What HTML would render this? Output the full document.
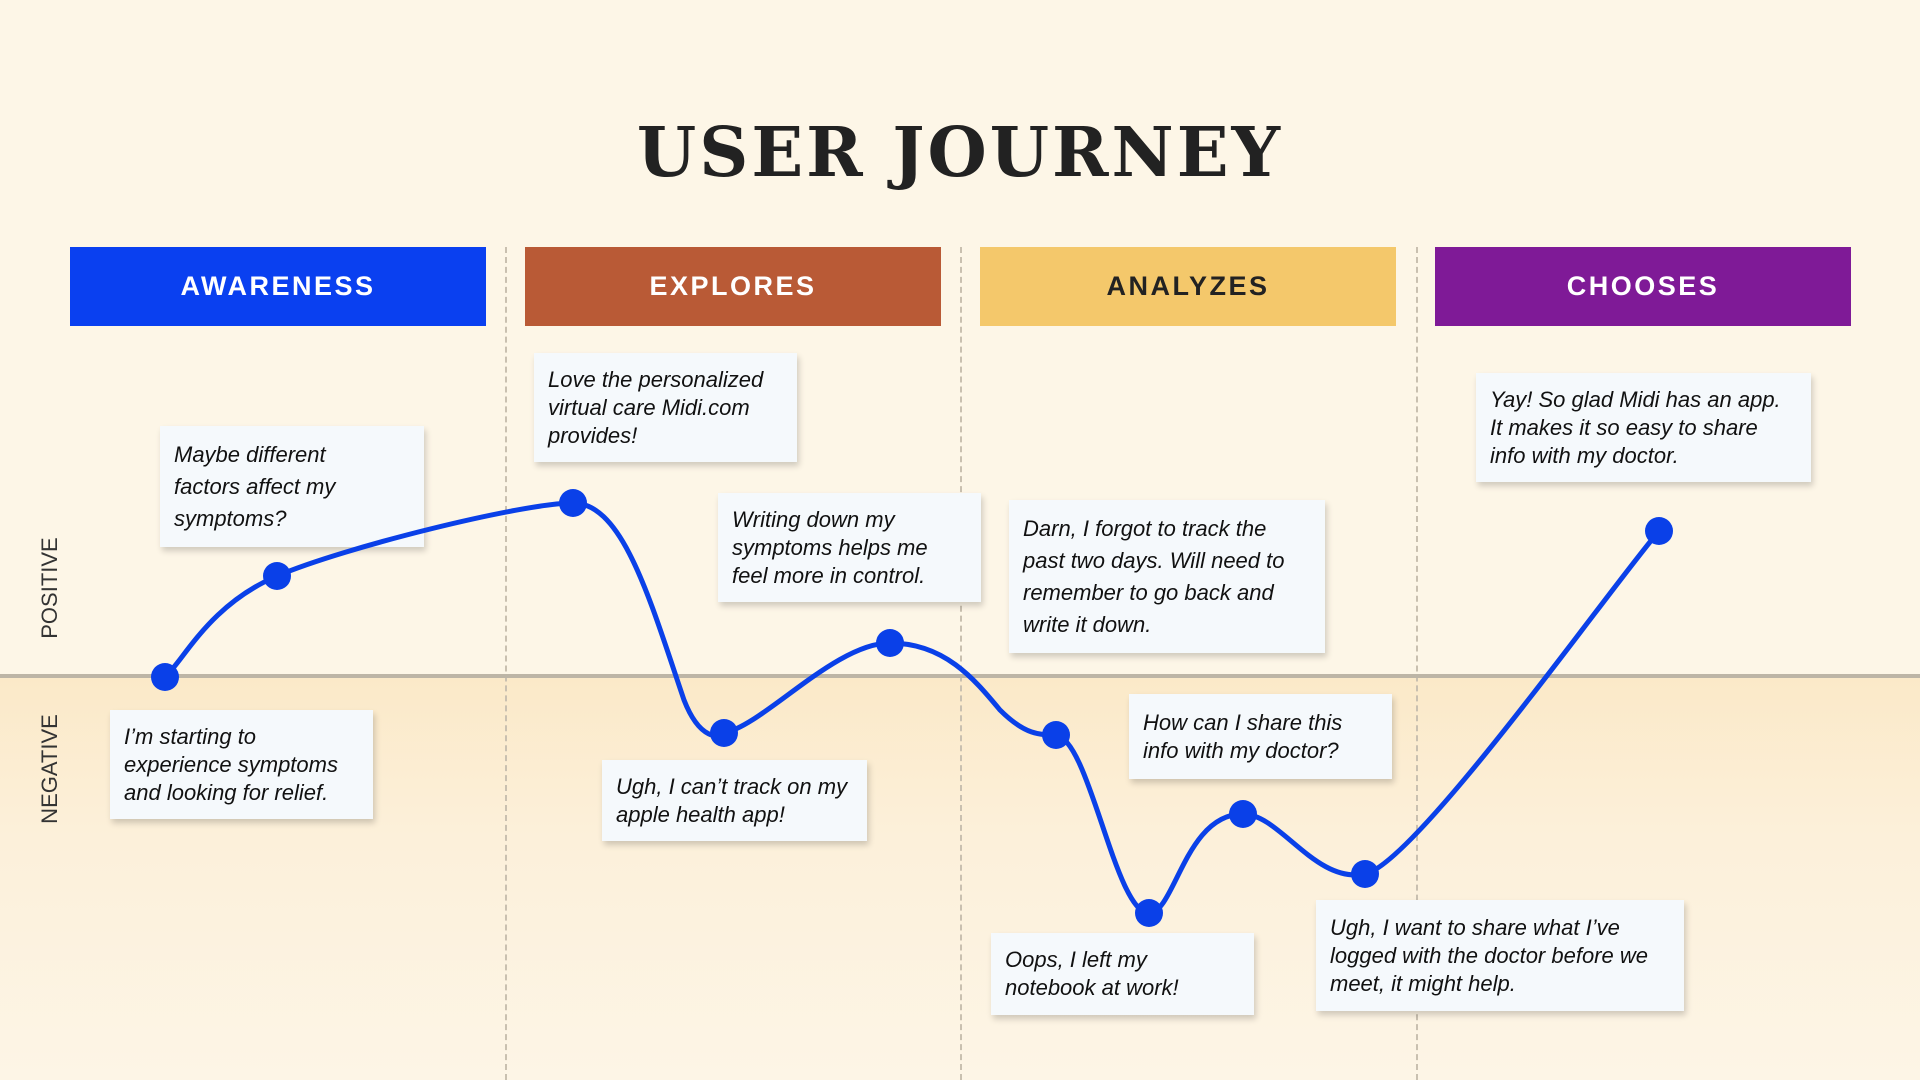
<!DOCTYPE html>
<html><head><meta charset="utf-8"><style>
html,body{margin:0;padding:0}
body{width:1920px;height:1080px;position:relative;overflow:hidden;font-family:"Liberation Sans",sans-serif;background:#fdf6e7}
.neg{position:absolute;left:0;top:676px;width:1920px;height:404px;background:linear-gradient(180deg,#fbe9c8 0%,#fcf0da 40%,#fdf5e6 100%)}
h1{position:absolute;left:0;width:1920px;top:108px;margin:0;text-align:center;font-family:"DejaVu Serif","Liberation Serif",serif;font-weight:bold;font-size:68px;letter-spacing:3px;color:#222;line-height:90px}
.hd{position:absolute;top:247px;height:79px;width:416px;color:#fff;font-weight:bold;font-size:27px;letter-spacing:2.5px;display:flex;align-items:center;justify-content:center}
.dash{position:absolute;top:247px;height:833px;border-left:2px dashed #c9c0b0;width:0}
.axis{position:absolute;left:0;top:674px;width:1920px;height:4px;background:#bdb5a6}
.lbl{position:absolute;font-size:22px;color:#333;transform:rotate(-90deg);transform-origin:center;white-space:nowrap;width:140px;text-align:center}
.card{position:absolute;background:#f5f9fc;box-shadow:2px 4px 6px rgba(0,0,0,.18);font-style:italic;font-size:22px;line-height:28px;color:#111;padding:0 14px;box-sizing:border-box;display:flex;align-items:center}
svg{position:absolute;left:0;top:0}
</style></head><body>
<div class="neg"></div>
<h1>USER JOURNEY</h1>
<div class="dash" style="left:505px"></div>
<div class="dash" style="left:960px"></div>
<div class="dash" style="left:1416px"></div>
<div class="hd" style="left:70px;background:#0a40f0">AWARENESS</div>
<div class="hd" style="left:525px;background:#b95a36">EXPLORES</div>
<div class="hd" style="left:980px;background:#f4c86b;color:#222">ANALYZES</div>
<div class="hd" style="left:1435px;background:#7f1a97">CHOOSES</div>
<div class="axis"></div>
<div class="lbl" style="left:-20px;top:575px">POSITIVE</div>
<div class="lbl" style="left:-20px;top:756px">NEGATIVE</div>

<div class="card" style="left:160px;top:426px;width:264px;height:121px;line-height:32px;padding-right:60px">Maybe different factors affect my symptoms?</div>
<div class="card" style="left:534px;top:353px;width:263px;height:109px">Love the personalized virtual care Midi.com provides!</div>
<div class="card" style="left:718px;top:493px;width:263px;height:109px">Writing down my symptoms helps me feel more in control.</div>
<div class="card" style="left:1009px;top:500px;width:316px;height:153px;line-height:32px">Darn, I forgot to track the past two days. Will need to remember to go back and write it down.</div>
<div class="card" style="left:1476px;top:373px;width:335px;height:109px">Yay! So glad Midi has an app. It makes it so easy to share info with my doctor.</div>
<div class="card" style="left:110px;top:710px;width:263px;height:109px">I’m starting to experience symptoms and looking for relief.</div>
<div class="card" style="left:602px;top:760px;width:265px;height:81px">Ugh, I can’t track on my apple health app!</div>
<div class="card" style="left:1129px;top:694px;width:263px;height:85px">How can I share this info with my doctor?</div>
<div class="card" style="left:991px;top:933px;width:263px;height:82px">Oops, I left my notebook at work!</div>
<div class="card" style="left:1316px;top:900px;width:368px;height:111px">Ugh, I want to share what I’ve logged with the doctor before we meet, it might help.</div>

<svg width="1920" height="1080" viewBox="0 0 1920 1080">
<path d="M165,677 C184,660 209,605 277,576 C345,547 523,503 573,503 C623,503 650,600 684,700 C700,741 720,738 724,733 C764,725 835,643 890,643 C945,643 975,680 1000,710 C1025,735 1040,735 1056,735 C1090,740 1115,913 1149,913 C1175,913 1185,814 1243,814 C1280,814 1315,884 1365,874 C1415,864 1610,588 1659,531" fill="none" stroke="#0a40e8" stroke-width="5"/>
<g fill="#0a40e8">
<circle cx="165" cy="677" r="14"/><circle cx="277" cy="576" r="14"/><circle cx="573" cy="503" r="14"/><circle cx="724" cy="733" r="14"/><circle cx="890" cy="643" r="14"/><circle cx="1056" cy="735" r="14"/><circle cx="1149" cy="913" r="14"/><circle cx="1243" cy="814" r="14"/><circle cx="1365" cy="874" r="14"/><circle cx="1659" cy="531" r="14"/>
</g>
</svg>
</body></html>
